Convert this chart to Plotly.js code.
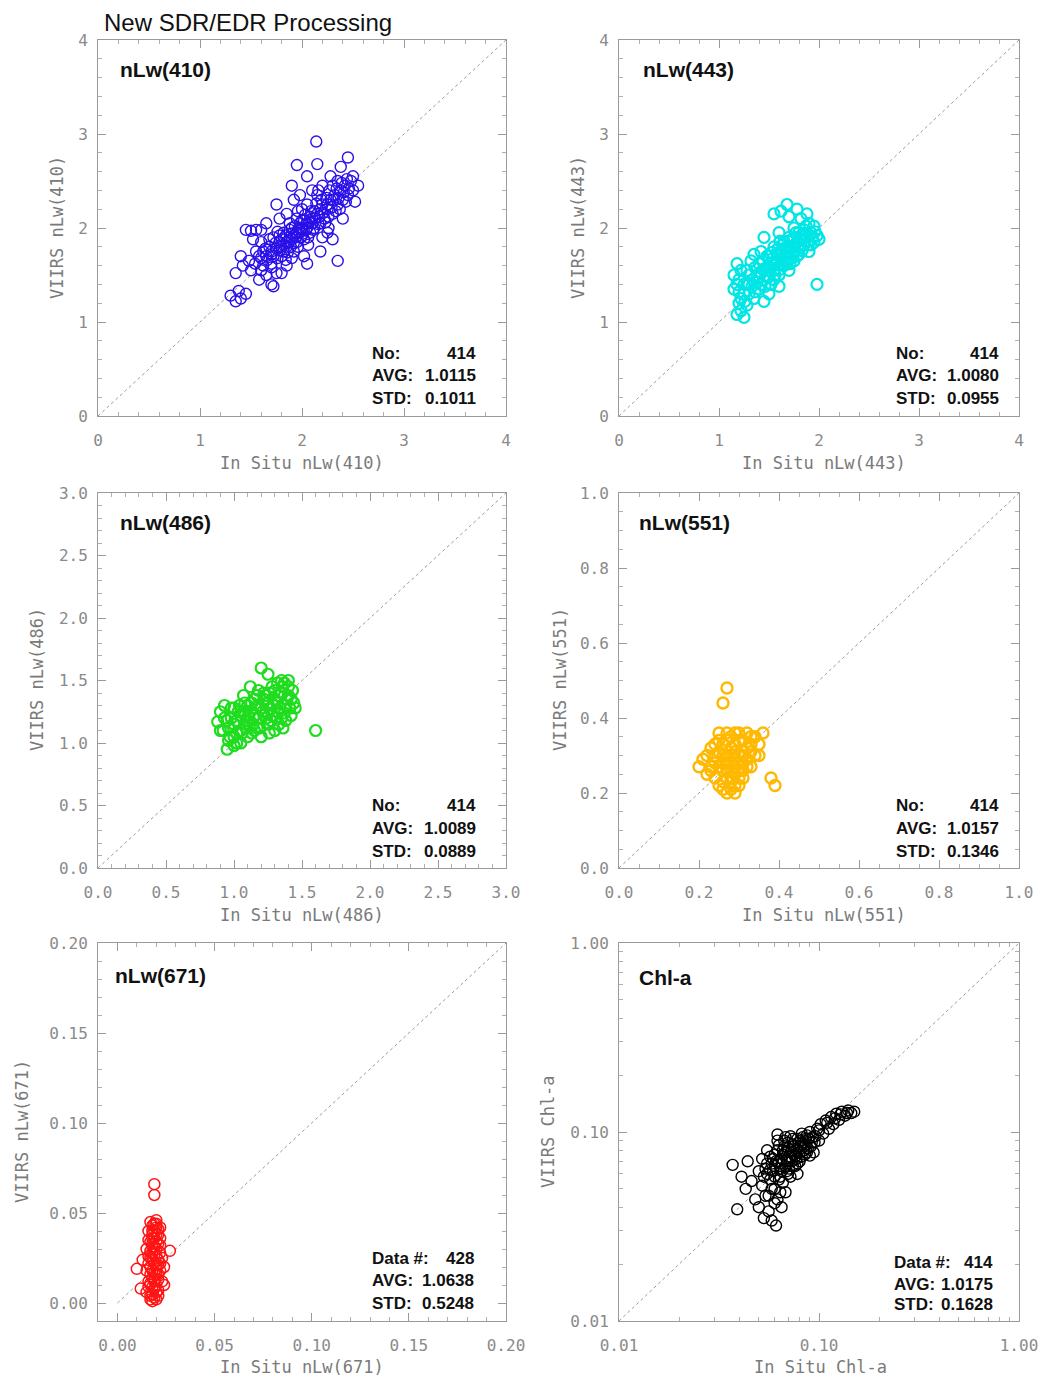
<!DOCTYPE html>
<html>
<head>
<meta charset="utf-8">
<script src="https://cdn.plot.ly/plotly-3.0.1.min.js"></script>
<style>html,body{margin:0;padding:0;background:#fff;}#chart{width:1054px;height:1381px;}</style>
</head>
<body>
<div id="chart"></div>
<script>
// ---------- DATA ----------
const mainTitle = "New SDR/EDR Processing";
const panelNames = ["nLw(410)", "nLw(443)", "nLw(486)", "nLw(551)", "nLw(671)", "Chl-a"];
const xTitles = ["In Situ nLw(410)", "In Situ nLw(443)", "In Situ nLw(486)", "In Situ nLw(551)", "In Situ nLw(671)", "In Situ Chl-a"];
const yTitles = ["VIIRS nLw(410)", "VIIRS nLw(443)", "VIIRS nLw(486)", "VIIRS nLw(551)", "VIIRS nLw(671)", "VIIRS Chl-a"];
const statLabels = [
  ["No:", "AVG:", "STD:"], ["No:", "AVG:", "STD:"], ["No:", "AVG:", "STD:"],
  ["No:", "AVG:", "STD:"], ["Data #:", "AVG:", "STD:"], ["Data #:", "AVG:", "STD:"]
];
const statValues = [
  ["414", "1.0115", "0.1011"], ["414", "1.0080", "0.0955"], ["414", "1.0089", "0.0889"],
  ["414", "1.0157", "0.1346"], ["428", "1.0638", "0.5248"], ["414", "1.0175", "0.1628"]
];
const axisRanges = [[0, 4], [0, 4], [0, 3], [0, 1], [-0.01, 0.20], [0.01, 1]];
const logTickVals = [0.01, 0.1, 1];
const logTickText = ["0.01", "0.10", "1.00"];
const logMinorVals = [0.02, 0.03, 0.04, 0.05, 0.06, 0.07, 0.08, 0.09, 0.2, 0.3, 0.4, 0.5, 0.6, 0.7, 0.8, 0.9];

const pts410 = [
 [1.30,1.28],[1.35,1.22],[1.40,1.25],[1.38,1.33],[1.45,1.30],[1.35,1.52],[1.42,1.60],[1.40,1.70],[1.50,1.55],[1.48,1.65],
 [1.45,1.98],[1.50,1.97],[1.55,1.98],[1.60,1.98],[1.52,1.88],[1.55,1.75],[1.60,1.68],[1.62,1.60],[1.65,1.50],[1.58,1.45],
 [1.70,1.40],[1.75,1.52],[1.68,1.80],[1.72,1.90],[1.65,2.05],[1.70,1.72],[1.78,1.85],[1.80,1.70],[1.82,1.95],[1.78,2.10],
 [1.75,2.25],[1.85,1.80],[1.88,1.90],[1.90,2.00],[1.85,2.15],[1.92,1.75],[1.95,1.85],[1.98,1.95],[1.95,2.10],[1.92,2.30],
 [1.90,2.45],[1.95,2.67],[2.00,2.00],[2.02,1.88],[2.05,2.05],[2.00,2.20],[2.08,1.95],[2.10,2.10],[2.05,2.25],[2.12,2.00],
 [2.15,2.15],[2.18,2.05],[2.20,2.25],[2.15,2.35],[2.10,2.40],[2.22,2.10],[2.25,2.20],[2.28,2.30],[2.20,2.45],[2.30,2.15],
 [2.32,2.35],[2.35,2.25],[2.30,2.45],[2.38,2.40],[2.40,2.30],[2.35,2.50],[2.42,2.45],[2.45,2.35],[2.48,2.50],[2.50,2.40],
 [2.52,2.28],[2.50,2.55],[2.45,2.75],[2.38,2.65],[2.15,2.68],[2.14,2.92],[2.05,2.55],[2.30,1.88],[2.18,1.75],[2.35,1.65],
 [2.05,1.62],[1.85,1.60],[1.80,1.52],[1.72,1.38],[1.90,1.68],[2.25,1.95],[2.40,2.10],[2.20,1.90],[1.60,1.85],[1.70,1.62],
 [1.98,2.35],[2.28,2.55],[2.55,2.45],[2.02,1.70],[1.88,2.05],[1.80,1.80],[1.85,1.85],[1.90,1.88],[1.95,1.95],[2.00,1.98],
 [2.05,2.00],[2.10,2.05],[1.75,1.78],[1.82,1.75],[1.92,1.92],[1.98,2.05],[2.08,2.12],[2.12,2.18],[2.18,2.20],[2.25,2.25],
 [1.70,1.75],[1.65,1.70],[1.78,1.92],[1.88,1.98],[2.02,2.08],
 [1.58,1.70],[1.62,1.75],[1.66,1.66],[1.68,1.88],[1.72,1.70],[1.74,1.84],[1.76,1.68],[1.78,1.76],[1.80,1.88],[1.82,1.82],
 [1.84,1.92],[1.86,1.74],[1.87,1.86],[1.89,1.80],[1.90,1.94],[1.92,1.84],[1.93,2.02],[1.94,1.90],[1.96,1.80],[1.97,2.00],
 [1.99,1.90],[2.00,2.08],[2.01,1.94],[2.03,2.14],[2.04,1.98],[2.06,1.90],[2.07,2.06],[2.09,2.18],[2.11,1.98],[2.13,2.10],
 [2.14,2.26],[2.16,2.04],[2.17,2.12],[2.19,2.30],[2.21,2.16],[2.23,2.06],[2.24,2.32],[2.26,2.12],[2.27,2.40],[2.29,2.22],
 [2.31,2.30],[2.33,2.18],[2.34,2.42],[2.36,2.32],[2.37,2.20],[2.39,2.48],[2.41,2.38],[2.43,2.28],[2.44,2.52],[2.46,2.42],
 [1.64,1.78],[1.76,1.96],[1.84,1.66],[1.96,2.18],[2.06,1.82],[2.16,2.40],[2.26,2.00],[1.70,1.58],[1.60,1.55],[1.54,1.62]
];
const pts443 = [
 [1.18,1.08],[1.22,1.12],[1.25,1.05],[1.20,1.20],[1.15,1.35],[1.15,1.50],[1.18,1.62],[1.20,1.45],[1.25,1.30],[1.28,1.55],
 [1.30,1.40],[1.32,1.65],[1.35,1.25],[1.38,1.50],[1.40,1.35],[1.40,1.62],[1.42,1.75],[1.45,1.45],[1.48,1.58],[1.45,1.22],
 [1.50,1.70],[1.52,1.40],[1.55,1.55],[1.55,1.80],[1.58,1.65],[1.60,1.50],[1.60,1.95],[1.62,1.75],[1.65,1.60],[1.65,1.85],
 [1.68,1.70],[1.70,1.55],[1.70,1.90],[1.72,1.78],[1.75,1.65],[1.75,2.00],[1.78,1.85],[1.80,1.72],[1.80,1.95],[1.82,2.10],
 [1.85,1.82],[1.85,1.98],[1.88,1.90],[1.90,1.75],[1.90,2.05],[1.92,1.95],[1.95,1.85],[1.95,2.02],[1.98,1.92],[2.00,1.88],
 [1.55,2.15],[1.62,2.18],[1.70,2.12],[1.78,2.20],[1.88,2.15],[1.68,2.25],[1.50,1.30],[1.60,1.38],[1.98,1.40],[1.45,1.90],
 [1.35,1.72],[1.28,1.18],[1.52,1.62],[1.58,1.72],[1.66,1.78],[1.72,1.68],[1.76,1.82],[1.84,1.88],[1.62,1.62],[1.48,1.48],
 [1.40,1.48],[1.30,1.30],[1.55,1.45],[1.68,1.62],[1.82,1.80],[1.92,1.82],[1.75,1.90],[1.65,1.70],[1.50,1.55],[1.42,1.40],
 [1.25,1.40],[1.30,1.50],[1.33,1.38],[1.36,1.58],[1.38,1.42],[1.42,1.52],[1.44,1.64],[1.46,1.38],[1.48,1.70],[1.50,1.48],
 [1.52,1.58],[1.54,1.68],[1.56,1.50],[1.57,1.62],[1.59,1.78],[1.61,1.56],[1.63,1.68],[1.64,1.82],[1.66,1.64],[1.67,1.74],
 [1.69,1.86],[1.71,1.62],[1.73,1.72],[1.74,1.88],[1.76,1.75],[1.77,1.95],[1.79,1.80],[1.81,1.88],[1.83,1.76],[1.84,1.94],
 [1.86,1.86],[1.87,2.02],[1.89,1.82],[1.91,1.92],[1.93,1.88],[1.96,1.96],[1.22,1.25],[1.20,1.32],[1.26,1.22],[1.34,1.45],
 [1.18,1.40],[1.22,1.55],[1.28,1.42],[1.36,1.32],[1.44,1.56],[1.53,1.74],[1.61,1.86],[1.69,1.78],[1.78,1.70],[1.86,1.92]
];
const pts486 = [
 [0.88,1.17],[0.90,1.25],[0.92,1.10],[0.95,0.95],[0.93,1.30],[0.97,1.05],[1.00,1.15],[1.00,1.28],[1.02,1.00],[1.05,1.10],
 [1.05,1.22],[1.08,1.32],[1.10,1.05],[1.10,1.18],[1.12,1.25],[1.15,1.10],[1.15,1.35],[1.18,1.20],[1.20,1.05],[1.20,1.28],
 [1.22,1.40],[1.25,1.15],[1.25,1.32],[1.28,1.22],[1.28,1.45],[1.30,1.10],[1.30,1.35],[1.32,1.25],[1.35,1.40],[1.35,1.50],
 [1.38,1.30],[1.38,1.18],[1.40,1.45],[1.42,1.22],[1.42,1.35],[1.12,1.45],[1.05,1.00],[0.98,1.20],[1.18,1.42],[1.25,1.55],
 [1.08,1.15],[1.15,1.22],[1.22,1.22],[1.32,1.32],[1.02,1.08],[1.60,1.10],[1.45,1.28],[1.20,1.60],[1.10,1.30],[1.35,1.20],
 [1.27,1.27],[1.17,1.12],[0.95,1.18],[1.03,1.25],[1.13,1.08],[1.23,1.38],[1.33,1.15],[1.40,1.38],[1.37,1.48],[1.07,1.38],
 [0.90,1.10],[0.93,1.20],[0.96,1.12],[0.98,1.28],[1.00,1.05],[1.02,1.18],[1.04,1.30],[1.06,1.08],[1.07,1.25],[1.09,1.12],
 [1.11,1.20],[1.13,1.32],[1.14,1.15],[1.16,1.28],[1.17,1.38],[1.19,1.12],[1.21,1.25],[1.22,1.35],[1.24,1.20],[1.26,1.40],
 [1.27,1.18],[1.29,1.30],[1.30,1.42],[1.31,1.20],[1.33,1.38],[1.34,1.28],[1.36,1.45],[1.37,1.24],[1.39,1.35],[1.41,1.28],
 [1.43,1.42],[1.44,1.32],[1.40,1.50],[1.32,1.48],[1.18,1.30],[1.08,1.22],[0.96,1.02],[1.00,0.98],[1.26,1.08],[1.36,1.12]
];
const pts551 = [
 [0.20,0.27],[0.22,0.25],[0.22,0.30],[0.24,0.28],[0.24,0.33],[0.25,0.22],[0.25,0.36],[0.26,0.26],[0.26,0.30],[0.27,0.20],
 [0.27,0.34],[0.28,0.24],[0.28,0.28],[0.28,0.32],[0.29,0.22],[0.29,0.36],[0.30,0.26],[0.30,0.30],[0.30,0.34],[0.31,0.24],
 [0.31,0.28],[0.32,0.32],[0.32,0.36],[0.33,0.27],[0.33,0.35],[0.34,0.30],[0.35,0.33],[0.36,0.36],[0.27,0.28],[0.29,0.29],
 [0.26,0.23],[0.28,0.21],[0.30,0.22],[0.23,0.27],[0.25,0.31],[0.38,0.24],[0.39,0.22],[0.26,0.44],[0.27,0.48],[0.31,0.31],
 [0.27,0.26],[0.29,0.27],[0.31,0.26],[0.24,0.24],[0.33,0.31],
 [0.21,0.29],[0.23,0.26],[0.23,0.32],[0.24,0.30],[0.25,0.27],[0.25,0.34],[0.26,0.28],[0.26,0.33],[0.27,0.24],[0.27,0.30],
 [0.27,0.36],[0.28,0.26],[0.28,0.30],[0.28,0.35],[0.29,0.25],[0.29,0.31],[0.29,0.33],[0.30,0.28],[0.30,0.24],[0.30,0.36],
 [0.31,0.30],[0.31,0.34],[0.32,0.27],[0.32,0.29],[0.33,0.33],[0.34,0.35],[0.35,0.30],[0.26,0.21],[0.29,0.20],[0.28,0.23]
];
const pts671 = [
 [0.017,0.002],[0.018,0.005],[0.019,0.008],[0.020,0.010],[0.016,0.012],[0.018,0.014],[0.020,0.016],[0.022,0.018],[0.017,0.020],[0.019,0.022],
 [0.021,0.024],[0.016,0.026],[0.018,0.028],[0.020,0.030],[0.022,0.032],[0.017,0.034],[0.019,0.036],[0.021,0.038],[0.018,0.040],[0.020,0.042],
 [0.019,0.044],[0.015,0.006],[0.021,0.004],[0.023,0.012],[0.015,0.018],[0.023,0.025],[0.015,0.030],[0.022,0.036],[0.016,0.040],[0.010,0.019],
 [0.012,0.008],[0.027,0.029],[0.024,0.020],[0.019,0.060],[0.019,0.066],[0.018,0.001],[0.020,0.002],[0.017,0.016],[0.019,0.027],[0.018,0.033],
 [0.020,0.021],[0.021,0.013],[0.016,0.009],[0.024,0.010],[0.013,0.024],[0.020,0.046],[0.018,0.038],[0.022,0.042],[0.017,0.045],[0.021,0.007],
 [0.017,0.004],[0.019,0.003],[0.018,0.009],[0.020,0.006],[0.017,0.011],[0.019,0.013],[0.021,0.016],[0.018,0.018],[0.020,0.019],[0.016,0.022],
 [0.018,0.024],[0.020,0.026],[0.022,0.028],[0.017,0.029],[0.019,0.031],[0.021,0.033],[0.016,0.035],[0.018,0.036],[0.020,0.038],[0.019,0.040],
 [0.021,0.041],[0.018,0.043],[0.020,0.044],[0.019,0.017],[0.021,0.021],[0.017,0.025],[0.019,0.012],[0.020,0.034],[0.018,0.031],[0.022,0.022]
];
const ptsChl = [
 [0.037,0.067],[0.044,0.070],[0.039,0.039],[0.041,0.058],[0.043,0.050],[0.046,0.055],[0.048,0.044],[0.050,0.062],[0.050,0.040],[0.052,0.072],
 [0.052,0.052],[0.054,0.046],[0.055,0.080],[0.055,0.060],[0.056,0.038],[0.058,0.068],[0.058,0.050],[0.060,0.076],[0.060,0.058],[0.061,0.032],
 [0.062,0.097],[0.062,0.044],[0.063,0.085],[0.064,0.064],[0.065,0.072],[0.066,0.054],[0.067,0.090],[0.068,0.078],[0.069,0.062],[0.070,0.082],
 [0.070,0.070],[0.072,0.095],[0.072,0.058],[0.074,0.086],[0.075,0.076],[0.076,0.066],[0.078,0.092],[0.079,0.080],[0.080,0.070],[0.082,0.098],
 [0.083,0.086],[0.085,0.076],[0.086,0.092],[0.088,0.082],[0.090,0.100],[0.092,0.088],[0.094,0.078],[0.096,0.095],[0.098,0.104],[0.100,0.090],
 [0.102,0.110],[0.105,0.098],[0.108,0.115],[0.112,0.104],[0.115,0.120],[0.118,0.110],[0.122,0.125],[0.126,0.116],[0.130,0.128],[0.135,0.122],
 [0.140,0.130],[0.145,0.126],[0.150,0.128],[0.058,0.034],[0.065,0.040],[0.053,0.035],[0.068,0.048],[0.057,0.063],[0.063,0.070],[0.071,0.074],
 [0.077,0.072],[0.073,0.080],[0.081,0.090],[0.087,0.096],[0.060,0.066],[0.066,0.080],[0.074,0.066],[0.084,0.084],[0.090,0.075],[0.078,0.060],
 [0.055,0.068],[0.057,0.074],[0.059,0.062],[0.061,0.070],[0.062,0.080],[0.064,0.058],[0.065,0.068],[0.066,0.076],[0.067,0.084],[0.068,0.066],
 [0.069,0.072],[0.070,0.088],[0.071,0.064],[0.072,0.078],[0.073,0.070],[0.074,0.092],[0.075,0.084],[0.076,0.074],[0.077,0.080],[0.078,0.068],
 [0.079,0.088],[0.080,0.078],[0.081,0.084],[0.082,0.074],[0.083,0.094],[0.084,0.080],[0.086,0.086],[0.087,0.078],[0.089,0.092],[0.091,0.084],
 [0.093,0.094],[0.095,0.088],[0.060,0.050],[0.063,0.056],[0.057,0.056],[0.054,0.064],[0.062,0.090],[0.068,0.094],[0.065,0.062],[0.070,0.060],
 [0.064,0.048],[0.060,0.042],[0.056,0.046],[0.053,0.058],[0.059,0.072],[0.110,0.112],[0.120,0.118],[0.128,0.124],[0.138,0.126],[0.100,0.102]
];
const panelPoints = [pts410, pts443, pts486, pts551, pts671, ptsChl];
const oneToOne = [[0, 4], [0, 4], [0, 3], [0, 1], [0, 0.2], [0.01, 1]];

// ---------- STYLE / LAYOUT ----------
const W = 1054, H = 1381;
const colors = ["#2a10e8", "#00e5e5", "#1fdc1f", "#ffb800", "#ff1414", "#000000"];
const markerLine = [1.4, 2.2, 2.2, 2.4, 1.5, 1.4];
// plot boxes in pixels: [left, right, top, bottom]
const boxes = [
  [98, 506, 40, 416], [619, 1019, 40, 416],
  [98, 506, 493, 868], [619, 1019, 493, 868],
  [98, 506, 943, 1321], [619, 1019, 943, 1321]
];
const px = v => v / W, py = v => 1 - v / H;

const tickFont = {family: "DejaVu Sans Mono, monospace", size: 16, color: "#8a8a8a"};
const titleFont = {family: "DejaVu Sans Mono, monospace", size: 17, color: "#7a7a7a"};
const labFont = {family: "Liberation Sans, Arial, sans-serif", size: 21, color: "#111", weight: 700};
const statFont = {family: "Liberation Sans, Arial, sans-serif", size: 17, color: "#111", weight: 700};

const tickSpec = [
  {dtick: 1, minor: 0.2, fmt: "d"},
  {dtick: 1, minor: 0.2, fmt: "d"},
  {dtick: 0.5, minor: 0.1, fmt: ".1f"},
  {dtick: 0.2, minor: 0.05, fmt: ".1f"},
  {dtick: 0.05, minor: 0.01, fmt: ".2f"},
  {log: true}
];

const data = [];
const layout = {
  width: W, height: H,
  margin: {l: 0, r: 0, t: 0, b: 0},
  paper_bgcolor: "#fff", plot_bgcolor: "#fff",
  showlegend: false,
  annotations: [],
  font: {family: "Liberation Sans, Arial, sans-serif"}
};

function axisDef(i, isX) {
  const b = boxes[i];
  const ts = tickSpec[i];
  const dom = isX ? [px(b[0]), px(b[1])] : [py(b[3]), py(b[2])];
  const ax = {
    domain: dom,
    anchor: (isX ? "y" : "x") + (i === 0 ? "" : (i + 1)),
    showgrid: false, zeroline: false,
    showline: true, linecolor: "#9a9a9a", linewidth: 1, mirror: "allticks",
    ticks: "inside", ticklen: 8, tickcolor: "#9a9a9a", tickwidth: 1,
    tickfont: tickFont,
    ticklabelstandoff: isX ? 10 : 6
  };
  if (ts.log) {
    ax.type = "log";
    ax.range = [-2, 0];
    ax.tickmode = "array";
    ax.tickvals = logTickVals;
    ax.ticktext = logTickText;
    ax.minor = {ticks: "inside", ticklen: 4, tickcolor: "#b0b0b0", showgrid: false, tickmode: "array", tickvals: logMinorVals};
  } else {
    ax.range = axisRanges[i];
    ax.tick0 = 0; ax.dtick = ts.dtick; ax.tickformat = ts.fmt;
    ax.minor = {ticks: "inside", ticklen: 4, tickcolor: "#b0b0b0", dtick: ts.minor, tick0: 0, showgrid: false};
  }
  return ax;
}

for (let i = 0; i < 6; i++) {
  const sfx = i === 0 ? "" : String(i + 1);
  layout["xaxis" + sfx] = axisDef(i, true);
  layout["yaxis" + sfx] = axisDef(i, false);
  const pts = panelPoints[i];
  data.push({
    type: "scatter", mode: "lines", xaxis: "x" + sfx, yaxis: "y" + sfx,
    x: oneToOne[i], y: oneToOne[i],
    line: {color: "#9a9a9a", width: 1, dash: "dot"}, hoverinfo: "skip"
  });
  data.push({
    type: "scatter", mode: "markers", xaxis: "x" + sfx, yaxis: "y" + sfx,
    x: pts.map(p => p[0]), y: pts.map(p => p[1]),
    marker: {symbol: "circle-open", size: 11, color: colors[i], line: {width: markerLine[i], color: colors[i]}},
    cliponaxis: true
  });
}

// text positions (pixels)
const labelPos = [[118, 70], [641, 70], [118, 522], [637, 522], [113, 975], [637, 978]];
const statPos = [
  [370, 478, [353, 376, 398]], [894, 1001, [353, 376, 398]],
  [370, 478, [805, 828, 851]], [894, 1001, [805, 828, 851]],
  [370, 476, [1258, 1280, 1303]], [892, 995, [1262, 1284, 1304]]
];
const xTitlePos = [[302, 463], [824, 463], [302, 915], [824, 915], [302, 1367], [820, 1367]];
const yTitlePos = [[57, 228], [578, 228], [37, 680], [560, 680], [22, 1132], [548, 1132]];

const A = layout.annotations;
A.push({xref: "paper", yref: "paper", x: px(102), y: py(22), xanchor: "left", yanchor: "middle",
  text: mainTitle, showarrow: false, font: {family: "Liberation Sans, Arial, sans-serif", size: 24, color: "#111"}});
for (let i = 0; i < 6; i++) {
  A.push({xref: "paper", yref: "paper", x: px(labelPos[i][0]), y: py(labelPos[i][1]), xanchor: "left", yanchor: "middle",
    text: panelNames[i], showarrow: false, font: labFont});
  const s = statPos[i];
  for (let k = 0; k < 3; k++) {
    A.push({xref: "paper", yref: "paper", x: px(s[0]), y: py(s[2][k]), xanchor: "left", yanchor: "middle",
      text: statLabels[i][k], showarrow: false, font: statFont});
    A.push({xref: "paper", yref: "paper", x: px(s[1]), y: py(s[2][k]), xanchor: "right", yanchor: "middle",
      text: statValues[i][k], showarrow: false, font: statFont});
  }
  A.push({xref: "paper", yref: "paper", x: px(xTitlePos[i][0]), y: py(xTitlePos[i][1]), xanchor: "center", yanchor: "middle",
    text: xTitles[i], showarrow: false, font: titleFont});
  A.push({xref: "paper", yref: "paper", x: px(yTitlePos[i][0]), y: py(yTitlePos[i][1]), xanchor: "center", yanchor: "middle",
    text: yTitles[i], showarrow: false, textangle: -90, font: titleFont});
}

Plotly.newPlot("chart", data, layout, {staticPlot: true, displayModeBar: false});
</script>
</body>
</html>
